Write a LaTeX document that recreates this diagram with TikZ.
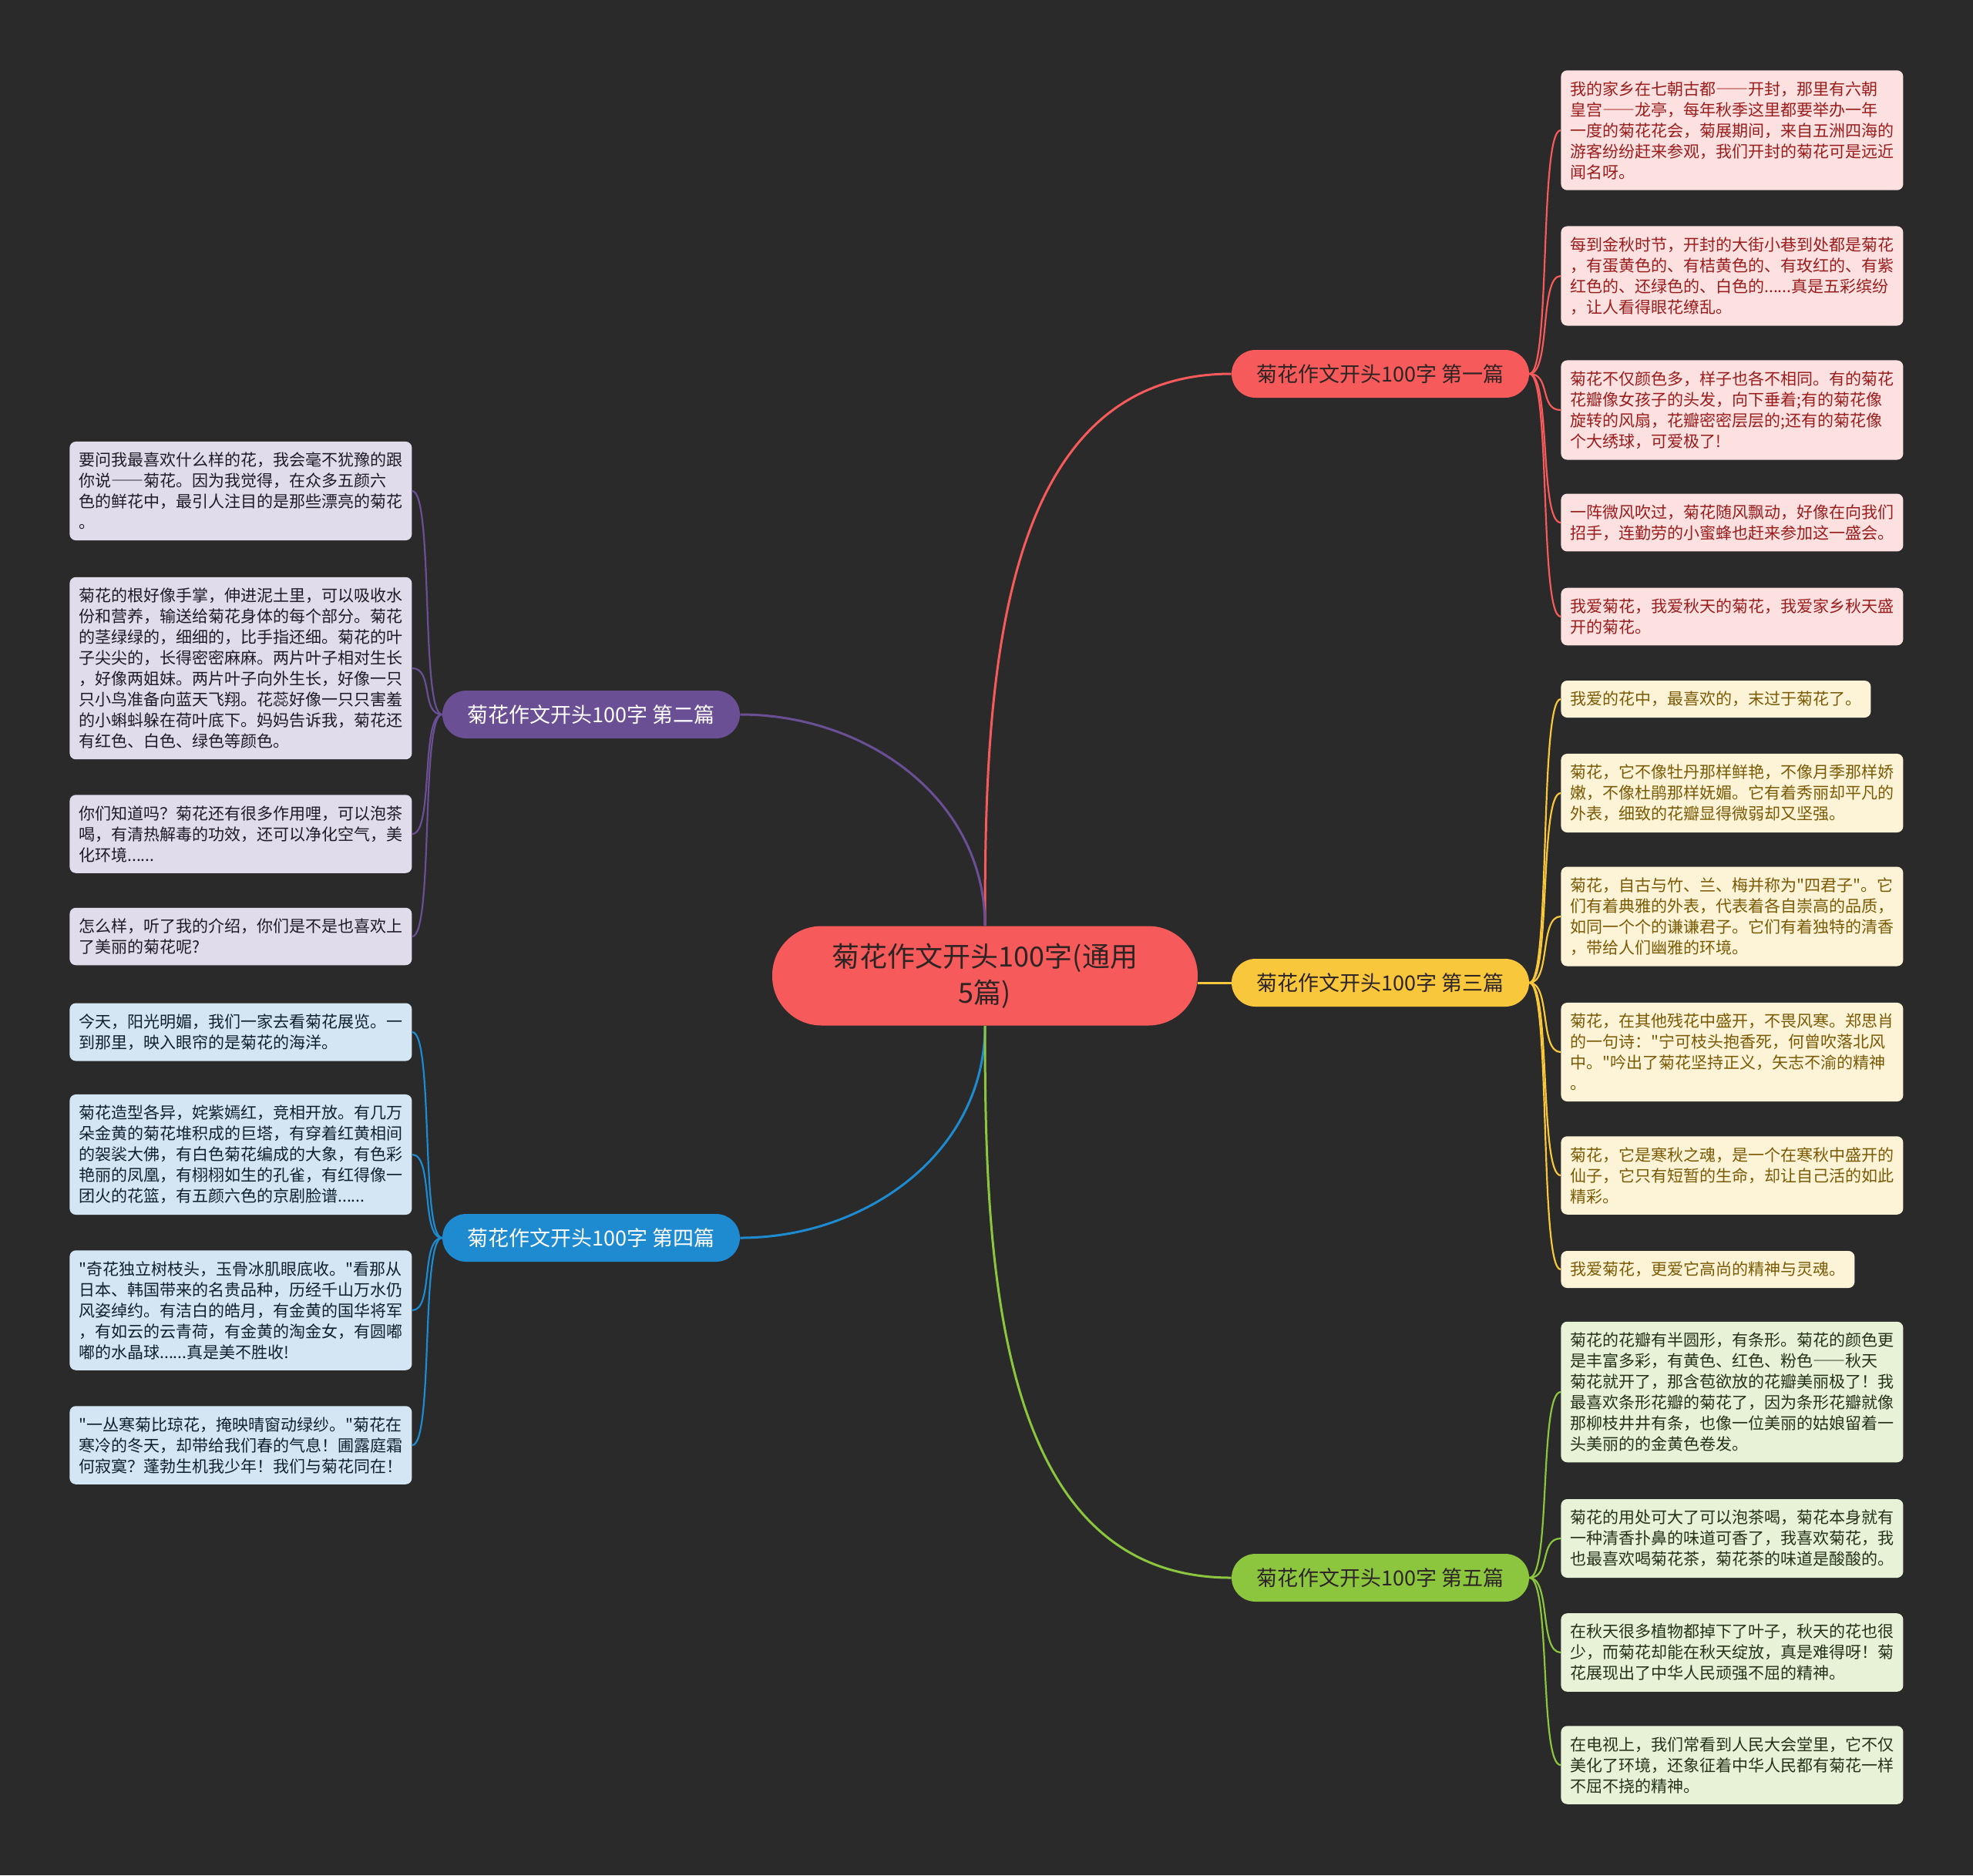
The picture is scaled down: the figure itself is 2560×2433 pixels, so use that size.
\documentclass[tikz,border=0pt]{standalone}
\usepackage{fontspec}
\setmainfont{Noto Sans CJK SC}[Ligatures=TeXOff]
\newcommand{\longdash}{{\addfontfeature{RawFeature=+fwid}——}}
\definecolor{bgcol}{HTML}{2A2A2A}
\definecolor{cred}{HTML}{F75A5A}
\definecolor{cpurple}{HTML}{6B4F95}
\definecolor{cyellow}{HTML}{F8C73C}
\definecolor{cblue}{HTML}{1E8AD0}
\definecolor{cgreen}{HTML}{8CC63F}
\definecolor{darktext}{HTML}{2E2424}
\definecolor{redfill}{HTML}{FDE1E1}
\definecolor{redtext}{HTML}{9A1D1D}
\definecolor{yelfill}{HTML}{FDF4D7}
\definecolor{yeltext}{HTML}{7A5A05}
\definecolor{grnfill}{HTML}{E7F2D7}
\definecolor{grntext}{HTML}{24321A}
\definecolor{purfill}{HTML}{E1DCEB}
\definecolor{purtext}{HTML}{1E1A26}
\definecolor{blufill}{HTML}{D4E6F3}
\definecolor{blutext}{HTML}{12202E}

\begin{document}
\begin{tikzpicture}[x=0.5pt,y=0.5pt,
    hub/.style={fill=cred,text=darktext,rounded corners=32pt,minimum width=276pt,
      minimum height=64.5pt,align=center,font=\fontsize{18}{23.5}\selectfont},
    topic/.style={fill=#1,rounded corners=15.5pt,minimum width=193pt,minimum height=31pt,
      font=\fontsize{13.5}{16}\selectfont},
    leaf/.style={rounded corners=4pt,inner xsep=6pt,inner ysep=7pt,align=left,anchor=west,
      font=\fontsize{10.5}{13.5}\selectfont},
    para/.style={leaf,text width=210pt},
    redpara/.style={para,fill=redfill,text=redtext},
    yelpara/.style={para,fill=yelfill,text=yeltext},
    yelone/.style={leaf,fill=yelfill,text=yeltext},
    grnpara/.style={para,fill=grnfill,text=grntext},
    purpara/.style={para,fill=purfill,text=purtext},
    blupara/.style={para,fill=blufill,text=blutext},
    trunk/.style={draw,color=#1,line width=1.5pt},
    twig/.style={draw,color=#1,line width=1.1pt},
    twigr/.style={out=0,in=180,distance=14pt},
    twigl/.style={out=180,in=0,distance=14pt}]

  \fill[bgcol] (0,0) rectangle (2560,-2433);
  \useasboundingbox (0,0) rectangle (2560,-2433);

  % centre and topics
  \node[hub] (c) at (1278,-1266) {菊花作文开头100字(通用\\5篇)};
  \node[topic=cred,text=darktext] (b1) at (1791,-485) {菊花作文开头100字 第一篇};
  \node[topic=cpurple,text=white] (b2) at (767,-927) {菊花作文开头100字 第二篇};
  \node[topic=cyellow,text=darktext] (b3) at (1791,-1275) {菊花作文开头100字 第三篇};
  \node[topic=cblue,text=white] (b4) at (767,-1606) {菊花作文开头100字 第四篇};
  \node[topic=cgreen,text=darktext] (b5) at (1791,-2047) {菊花作文开头100字 第五篇};

  % first
  \node[redpara] (r1) at (2025,-169) {我的家乡在七朝古都\longdash 开封，那里有六朝\\皇宫\longdash 龙亭，每年秋季这里都要举办一年\\一度的菊花花会，菊展期间，来自五洲四海的\\游客纷纷赶来参观，我们开封的菊花可是远近\\闻名呀。};
  \node[redpara] (r2) at (2025,-358) {每到金秋时节，开封的大街小巷到处都是菊花\\，有蛋黄色的、有桔黄色的、有玫红的、有紫\\红色的、还绿色的、白色的......真是五彩缤纷\\，让人看得眼花缭乱。};
  \node[redpara] (r3) at (2025,-532) {菊花不仅颜色多，样子也各不相同。有的菊花\\花瓣像女孩子的头发，向下垂着;有的菊花像\\旋转的风扇，花瓣密密层层的;还有的菊花像\\个大绣球，可爱极了!};
  \node[redpara] (r4) at (2025,-678) {一阵微风吹过，菊花随风飘动，好像在向我们\\招手，连勤劳的小蜜蜂也赶来参加这一盛会。};
  \node[redpara] (r5) at (2025,-800) {我爱菊花，我爱秋天的菊花，我爱家乡秋天盛\\开的菊花。};

  % third
  \node[yelone] (y1) at (2025,-907) {我爱的花中，最喜欢的，末过于菊花了。};
  \node[yelpara] (y2) at (2025,-1029) {菊花，它不像牡丹那样鲜艳，不像月季那样娇\\嫩，不像杜鹃那样妩媚。它有着秀丽却平凡的\\外表，细致的花瓣显得微弱却又坚强。};
  \node[yelpara] (y3) at (2025,-1189) {菊花，自古与竹、兰、梅并称为"四君子"。它\\们有着典雅的外表，代表着各自崇高的品质，\\如同一个个的谦谦君子。它们有着独特的清香\\，带给人们幽雅的环境。};
  \node[yelpara] (y4) at (2025,-1365) {菊花，在其他残花中盛开，不畏风寒。郑思肖\\的一句诗："宁可枝头抱香死，何曾吹落北风\\中。"吟出了菊花坚持正义，矢志不渝的精神\\。};
  \node[yelpara] (y5) at (2025,-1525) {菊花，它是寒秋之魂，是一个在寒秋中盛开的\\仙子，它只有短暂的生命，却让自己活的如此\\精彩。};
  \node[yelone] (y6) at (2025,-1647) {我爱菊花，更爱它高尚的精神与灵魂。};

  % fifth
  \node[grnpara] (g1) at (2025,-1806) {菊花的花瓣有半圆形，有条形。菊花的颜色更\\是丰富多彩，有黄色、红色、粉色\longdash 秋天\\菊花就开了，那含苞欲放的花瓣美丽极了！我\\最喜欢条形花瓣的菊花了，因为条形花瓣就像\\那柳枝井井有条，也像一位美丽的姑娘留着一\\头美丽的的金黄色卷发。};
  \node[grnpara] (g2) at (2025,-1996) {菊花的用处可大了可以泡茶喝，菊花本身就有\\一种清香扑鼻的味道可香了，我喜欢菊花，我\\也最喜欢喝菊花茶，菊花茶的味道是酸酸的。};
  \node[grnpara] (g3) at (2025,-2144) {在秋天很多植物都掉下了叶子，秋天的花也很\\少，而菊花却能在秋天绽放，真是难得呀！菊\\花展现出了中华人民顽强不屈的精神。};
  \node[grnpara] (g4) at (2025,-2290) {在电视上，我们常看到人民大会堂里，它不仅\\美化了环境，还象征着中华人民都有菊花一样\\不屈不挠的精神。};

  % second
  \node[purpara] (p1) at (90,-637) {要问我最喜欢什么样的花，我会毫不犹豫的跟\\你说\longdash 菊花。因为我觉得，在众多五颜六\\色的鲜花中，最引人注目的是那些漂亮的菊花\\。};
  \node[purpara] (p2) at (90,-867) {菊花的根好像手掌，伸进泥土里，可以吸收水\\份和营养，输送给菊花身体的每个部分。菊花\\的茎绿绿的，细细的，比手指还细。菊花的叶\\子尖尖的，长得密密麻麻。两片叶子相对生长\\，好像两姐妹。两片叶子向外生长，好像一只\\只小鸟准备向蓝天飞翔。花蕊好像一只只害羞\\的小蝌蚪躲在荷叶底下。妈妈告诉我，菊花还\\有红色、白色、绿色等颜色。};
  \node[purpara] (p3) at (90,-1082) {你们知道吗？菊花还有很多作用哩，可以泡茶\\喝，有清热解毒的功效，还可以净化空气，美\\化环境......};
  \node[purpara] (p4) at (90,-1215) {怎么样，听了我的介绍，你们是不是也喜欢上\\了美丽的菊花呢?};

  % fourth
  \node[blupara] (u1) at (90,-1339) {今天，阳光明媚，我们一家去看菊花展览。一\\到那里，映入眼帘的是菊花的海洋。};
  \node[blupara] (u2) at (90,-1498) {菊花造型各异，姹紫嫣红，竞相开放。有几万\\朵金黄的菊花堆积成的巨塔，有穿着红黄相间\\的袈裟大佛，有白色菊花编成的大象，有色彩\\艳丽的凤凰，有栩栩如生的孔雀，有红得像一\\团火的花篮，有五颜六色的京剧脸谱......};
  \node[blupara] (u3) at (90,-1700) {"奇花独立树枝头，玉骨冰肌眼底收。"看那从\\日本、韩国带来的名贵品种，历经千山万水仍\\风姿绰约。有洁白的皓月，有金黄的国华将军\\，有如云的云青荷，有金黄的淘金女，有圆嘟\\嘟的水晶球......真是美不胜收!};
  \node[blupara] (u4) at (90,-1875) {"一丛寒菊比琼花，掩映晴窗动绿纱。"菊花在\\寒冷的冬天，却带给我们春的气息！圃露庭霜\\何寂寞？蓬勃生机我少年！我们与菊花同在！};

  \path[trunk=cred] (c.north) edge[out=90,in=180] (b1.west);
  \path[trunk=cpurple] (c.north) edge[out=90,in=0] (b2.east);
  \path[trunk=cyellow] (c.east |- b3.west) edge (b3.west);
  \path[trunk=cblue] (c.south) edge[out=-90,in=0] (b4.east);
  \path[trunk=cgreen] (c.south) edge[out=-90,in=180] (b5.west);

  \path[twig=cred]
  (b1.east) edge[twigr] (r1.west)
  (b1.east) edge[twigr] (r2.west)
  (b1.east) edge[twigr] (r3.west)
  (b1.east) edge[twigr] (r4.west)
  (b1.east) edge[twigr] (r5.west);

  \path[twig=cyellow]
  (b3.east) edge[twigr] (y1.west)
  (b3.east) edge[twigr] (y2.west)
  (b3.east) edge[twigr] (y3.west)
  (b3.east) edge[twigr] (y4.west)
  (b3.east) edge[twigr] (y5.west)
  (b3.east) edge[twigr] (y6.west);

  \path[twig=cgreen]
  (b5.east) edge[twigr] (g1.west)
  (b5.east) edge[twigr] (g2.west)
  (b5.east) edge[twigr] (g3.west)
  (b5.east) edge[twigr] (g4.west);

  \path[twig=cpurple]
  (b2.west) edge[twigl] (p1.east)
  (b2.west) edge[twigl] (p2.east)
  (b2.west) edge[twigl] (p3.east)
  (b2.west) edge[twigl] (p4.east);

  \path[twig=cblue]
  (b4.west) edge[twigl] (u1.east)
  (b4.west) edge[twigl] (u2.east)
  (b4.west) edge[twigl] (u3.east)
  (b4.west) edge[twigl] (u4.east);
\end{tikzpicture}
\end{document}
